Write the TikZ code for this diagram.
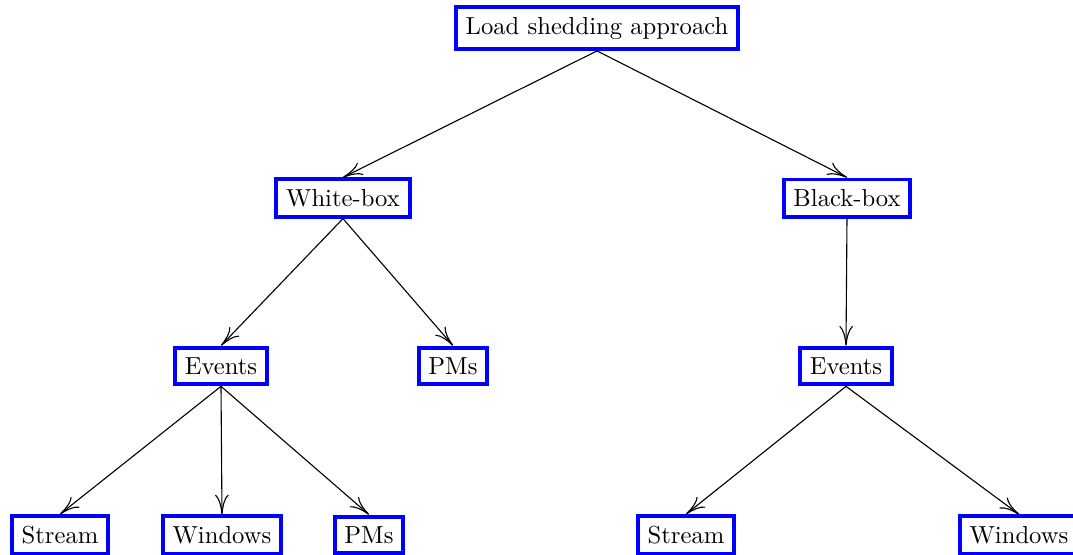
\documentclass[tikz,border=0pt]{standalone}
\usetikzlibrary{arrows.meta}
\begin{document}
\begin{tikzpicture}[x=0.406pt,y=-0.406pt,
  box/.style={draw=blue,line width=1.6pt,fill=white,inner sep=4pt},
  edge/.style={-{To[length=8pt,width=5.5pt]},line width=0.45pt}]
\useasboundingbox (0,0) rectangle (1073,554);
\node[box] (root) at (597,28) {Load shedding approach};
\node[box] (wb) at (343,198) {White-box};
\node[box] (bb) at (847,198) {Black-box};
\node[box] (ev1) at (221,366) {Events};
\node[box] (pm1) at (453,366) {PMs};
\node[box] (ev2) at (846,366) {Events};
\node[box] (st1) at (60,535) {Stream};
\node[box] (wi1) at (222,535) {Windows};
\node[box] (pm2) at (369,535) {PMs};
\node[box] (st2) at (686,535) {Stream};
\node[box] (wi2) at (1019,535) {Windows};
\draw[edge] (root.south) -- (wb.north);
\draw[edge] (root.south) -- (bb.north);
\draw[edge] (wb.south) -- (ev1.north);
\draw[edge] (wb.south) -- (pm1.north);
\draw[edge] (bb.south) -- (ev2.north);
\draw[edge] (ev1.south) -- (st1.north);
\draw[edge] (ev1.south) -- (wi1.north);
\draw[edge] (ev1.south) -- (pm2.north);
\draw[edge] (ev2.south) -- (st2.north);
\draw[edge] (ev2.south) -- (wi2.north);
\end{tikzpicture}
\end{document}
